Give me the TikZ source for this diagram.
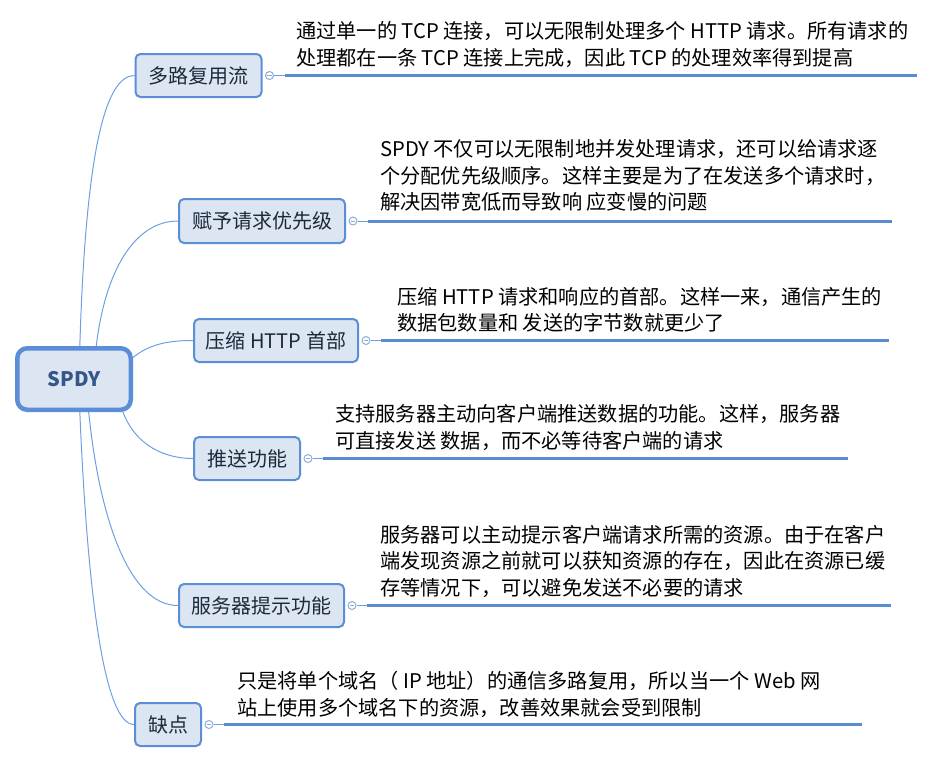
\documentclass[tikz,border=0pt]{standalone}
\usepackage{fontspec}
\setmainfont{Noto Sans CJK SC}
\definecolor{boxfill}{HTML}{DCE6F2}
\definecolor{boxline}{HTML}{5B8ED6}
\definecolor{conn}{HTML}{6E9FE3}
\definecolor{uline}{HTML}{5A8CD2}
\definecolor{roottext}{HTML}{34578A}
\definecolor{labeltext}{HTML}{1E2A3C}
\definecolor{circline}{HTML}{8FACD9}
\begin{document}
\begin{tikzpicture}[x=1pt,y=-1pt,
  every node/.style={font=\fontsize{20}{27}\selectfont},
  rootbox/.style={draw=boxline, line width=4.5pt, fill=boxfill, rounded corners=10pt, minimum width=113.5pt, minimum height=61.5pt, inner sep=0pt, text=roottext, font=\fontsize{20}{24}\selectfont\bfseries},
  topicbox/.style={draw=boxline, line width=2pt, fill=boxfill, rounded corners=5pt, minimum height=43pt, inner sep=0pt, text=labeltext},
  knob/.style={circle, draw=circline, fill=white, line width=1pt, minimum size=8pt, inner sep=0pt},
  knobbar/.style={draw=circline, line width=1pt},
  branch/.style={draw=conn, line width=1pt},
  stub/.style={draw=conn, line width=1pt},
  underbar/.style={draw=uline, line width=3pt},
  txt/.style={anchor=base west, inner sep=0pt, text=black, font=\fontsize{20.2}{27}\selectfont}
]
\useasboundingbox (0,0) rectangle (952,763);

% root
\node[rootbox] (root) at (74,379) {SPDY};

% topics
\node[topicbox, minimum width=126pt] (t1) at (198.5,75.5) {多路复用流};
\node[topicbox, minimum width=166pt, minimum height=44pt] (t2) at (262,221) {赋予请求优先级};
\node[topicbox, minimum width=164pt] (t3) at (276,340.5) {压缩 HTTP 首部};
\node[topicbox, minimum width=106pt] (t4) at (247,458.5) {推送功能};
\node[topicbox, minimum width=165pt] (t5) at (261.5,605.5) {服务器提示功能};
\node[topicbox, minimum width=66pt] (t6) at (168,724.5) {缺点};

% branches
\draw[branch] (root.80) .. controls +(6,-196) and +(-29,0) .. (t1.west);
\draw[branch] (root.56) .. controls +(9,-76) and +(-43,0) .. (t2.west);
\draw[branch] (root.20) .. controls +(17,-14) and +(-23,0) .. (t3.west);
\draw[branch] (root.-34) .. controls +(13,34) and +(-28,0) .. (t4.west);
\draw[branch] (root.-66) .. controls +(11,109) and +(-48,0) .. (t5.west);
\draw[branch] (root.-80) .. controls +(8,189) and +(-29,0) .. (t6.west);

% knobs and underlines
\foreach \t/\e/\y in {1/917/75.5, 2/892/221, 3/889/340.5, 4/848/458.5, 5/891/605.5, 6/862/724.5} {
  \node[knob] (k\t) at ([xshift=7pt]t\t.east) {};
  \draw[knobbar] ([xshift=-2.3pt]k\t.center) -- ([xshift=2.3pt]k\t.center);
  \path (k\t.center) ++(15,0) coordinate (a\t);
  \coordinate (b\t) at (\e,\y);
  \draw[stub] (k\t.east) -- (a\t);
  \draw[underbar] (a\t) -- (b\t);
}

% texts
\node[txt] (p1a) at (296,38.5) {通过单一的 TCP 连接，可以无限制处理多个 HTTP 请求。所有请求的};
\node[txt] (p1b) at (296,65) {处理都在一条 TCP 连接上完成，因此 TCP 的处理效率得到提高};

\node[txt] (p2a) at (380,156.5) {SPDY 不仅可以无限制地并发处理请求，还可以给请求逐};
\node[txt] (p2b) at (380,183) {个分配优先级顺序。这样主要是为了在发送多个请求时，};
\node[txt] (p2c) at (380,209.5) {解决因带宽低而导致响 应变慢的问题};

\node[txt] (p3a) at (397,304.5) {压缩 HTTP 请求和响应的首部。这样一来，通信产生的};
\node[txt] (p3b) at (397,330.5) {数据包数量和 发送的字节数就更少了};

\node[txt] (p4a) at (335,421.5) {支持服务器主动向客户端推送数据的功能。这样，服务器};
\node[txt] (p4b) at (335,448.5) {可直接发送 数据，而不必等待客户端的请求};

\node[txt] (p5a) at (380,542.5) {服务器可以主动提示客户端请求所需的资源。由于在客户};
\node[txt] (p5b) at (380,568.5) {端发现资源之前就可以获知资源的存在，因此在资源已缓};
\node[txt] (p5c) at (380,595.5) {存等情况下，可以避免发送不必要的请求};

\node[txt] (p6a) at (237,688.5) {只是将单个域名（ IP 地址）的通信多路复用，所以当一个 Web 网};
\node[txt] (p6b) at (237,715.5) {站上使用多个域名下的资源，改善效果就会受到限制};
\end{tikzpicture}
\end{document}
